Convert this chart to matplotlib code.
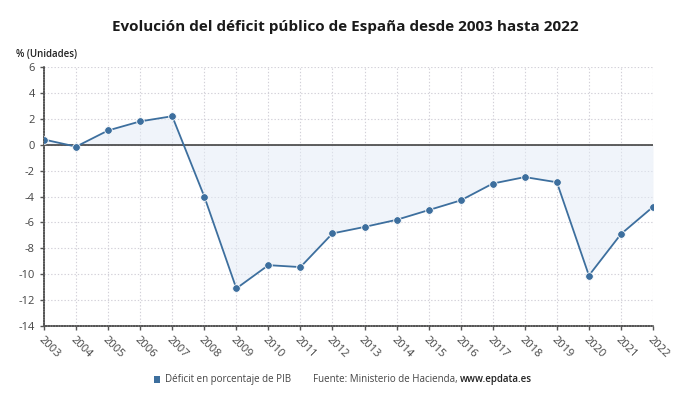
import matplotlib.pyplot as plt
import numpy as np

years = [str(y) for y in range(2003, 2023)]
deficit = [0.4, -0.15, 1.1, 1.8, 2.2, -4.0, -11.1, -9.3, -9.45, -6.85,
           -6.35, -5.8, -5.05, -4.3, -3.0, -2.5, -2.9, -10.1, -6.9, -4.8]

plt.rcParams['font.family'] = ['Open Sans', 'DejaVu Sans']
plt.rcParams['axes.unicode_minus'] = False

line_color = '#3d6f9e'
text_color = '#444444'

fig = plt.figure(figsize=(6.9, 4.05), dpi=100)
ax = fig.add_axes([0.0638, 0.195, 0.8826, 0.6396])

x = np.arange(len(years))
ax.fill_between(x, deficit, 0, color='#e3ebf6', alpha=0.5, linewidth=0, zorder=1)
ax.plot(x, deficit, color=line_color, linewidth=1.3, marker='o', markersize=5.5,
        markerfacecolor=line_color, markeredgecolor='white', markeredgewidth=0.6, zorder=3)
ax.axhline(0, color='#333333', linewidth=1.1, zorder=2)

ax.set_xlim(0, len(years) - 1)
ax.set_ylim(-14, 6)
ax.set_yticks(range(-14, 7, 2))
ax.set_xticks(x)
ax.set_xticklabels(years, rotation=-45, ha='left', va='top', rotation_mode='anchor')

ax.grid(True, color='#d2d0d8', linestyle=(0, (1.2, 1.8)), linewidth=0.8, zorder=0)
ax.set_axisbelow(True)

for side in ['top', 'right']:
    ax.spines[side].set_visible(False)
for side in ['left', 'bottom']:
    ax.spines[side].set_color('#555555')
    ax.spines[side].set_linewidth(1.2)
    ax.spines[side].set_linestyle((0, (1, 0.6)))

ax.tick_params(axis='both', colors='#555555', labelcolor=text_color, labelsize=8,
               length=3, width=1)
ax.tick_params(axis='x', pad=3)

fig.text(0.5, 0.933, 'Evolución del déficit público de España desde 2003 hasta 2022',
         ha='center', va='center', fontsize=11, fontweight='bold', color='#1a1a1a')
fig.text(0.023, 0.866, '% (Unidades)', ha='left', va='center', fontsize=7,
         fontweight='semibold', color='#222222')

# legend row at the bottom
fig.patches.append(plt.Rectangle((0.2225, 0.054), 0.0095, 0.017, transform=fig.transFigure,
                                 facecolor=line_color, edgecolor='none'))
fig.text(0.239, 0.063, 'Déficit en porcentaje de PIB', ha='left', va='center',
         fontsize=7, color=text_color)
t = fig.text(0.453, 0.063, 'Fuente: Ministerio de Hacienda, ', ha='left', va='center',
             fontsize=7, color=text_color)
fig.canvas.draw()
bb = t.get_window_extent().transformed(fig.transFigure.inverted())
fig.text(bb.x1, 0.063, 'www.epdata.es', ha='left', va='center', fontsize=7,
         fontweight='semibold', color='#222222')

fig.savefig('out.png', dpi=100)
